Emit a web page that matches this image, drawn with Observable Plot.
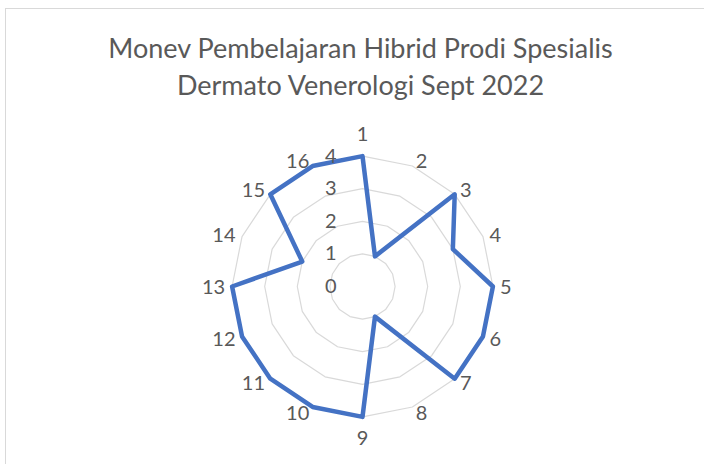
<!DOCTYPE html>
<html>
<head>
<meta charset="utf-8">
<script src="https://cdn.jsdelivr.net/npm/d3@7"></script>
<script src="https://cdn.jsdelivr.net/npm/@observablehq/plot@0.6"></script>
<style>
  html, body { margin: 0; padding: 0; background: #fff; }
  #wrap { position: relative; width: 704px; height: 464px; overflow: hidden; }
  #border { position: absolute; left: 5px; top: 8px; width: 900px; height: 700px;
            border: 1px solid #d9d9d9; box-sizing: border-box; }
  #chart { position: absolute; left: 0; top: 0; }
</style>
</head>
<body>
<div id="wrap"><div id="border"></div><div id="chart"></div></div>
<script>
// ---- data ----
const titleLines = ["Monev Pembelajaran Hibrid Prodi Spesialis", "Dermato Venerologi Sept 2022"];
const categories = ["1","2","3","4","5","6","7","8","9","10","11","12","13","14","15","16"];
const values = [4, 1, 4, 3, 4, 4, 4, 1, 4, 4, 4, 4, 4, 2, 4, 4];
const ringLevels = [1, 2, 3, 4];
const tickLabels = ["0", "1", "2", "3", "4"];
const maxValue = 4;

// ---- layout ----
const W = 704, H = 464;
const cx = 362, cy = 286, R = 130.4;
const u = R / maxValue; // px per value unit
const n = categories.length;
const ang = i => i * 2 * Math.PI / n;
const pt = (i, r) => [r * Math.sin(ang(i)), r * Math.cos(ang(i))];

const rings = ringLevels.flatMap(level =>
  categories.map((c, i) => { const [x, y] = pt(i, level); return {level, x, y}; }));

const series = values.map((v, i) => { const [x, y] = pt(i, v); return {cat: categories[i], x, y}; });

const labels = categories.map((c, i) => {
  const s = Math.sin(ang(i)), co = Math.cos(ang(i));
  const [ox, oy] = pt(i, maxValue);
  let dxp = 0, dyp = 0, side;
  if (Math.abs(s) < 1e-6) {
    side = "middle";
    dyp = co > 0 ? -22 : 22;
  } else {
    side = s > 0 ? "start" : "end";
    dxp = Math.sign(s) * (1 + 6 * Math.abs(s));
    dyp = -6 * co + 1;
  }
  return {label: c, side, x: ox + dxp / u, y: oy - dyp / u};
});

const ticks = tickLabels.map((t, k) => ({label: t, x: -26 / u, y: +t}));

const font = "Lato, 'Open Sans', sans-serif";
const grey = "#595959";
const fs = 20;

const plot = Plot.plot({
  width: W, height: H,
  margin: 0,
  style: {fontFamily: font, background: "transparent"},
  x: {domain: [-cx / u, (W - cx) / u], axis: null},
  y: {domain: [-(H - cy) / u, cy / u], axis: null},
  marks: [
    Plot.line(rings, {x: "x", y: "y", z: "level", curve: "linear-closed",
      stroke: "#d9d9d9", strokeWidth: 1.2}),
    Plot.line(series, {x: "x", y: "y", curve: "linear-closed",
      stroke: "#4472C4", strokeWidth: 4.5, strokeLinejoin: "round"}),
    Plot.text(labels.filter(d => d.side === "start"), {x: "x", y: "y", text: "label",
      textAnchor: "start", fontSize: fs, fill: grey}),
    Plot.text(labels.filter(d => d.side === "end"), {x: "x", y: "y", text: "label",
      textAnchor: "end", fontSize: fs, fill: grey}),
    Plot.text(labels.filter(d => d.side === "middle"), {x: "x", y: "y", text: "label",
      textAnchor: "middle", fontSize: fs, fill: grey}),
    Plot.text(ticks, {x: "x", y: "y", text: "label", textAnchor: "end",
      fontSize: fs, fill: grey}),
    Plot.text([titleLines.join("\n")], {frameAnchor: "top", lineAnchor: "top",
      dx: 8, dy: 32, lineHeight: 1.35, fontSize: 27, fill: grey})
  ]
});
document.getElementById("chart").appendChild(plot);
</script>
</body>
</html>
